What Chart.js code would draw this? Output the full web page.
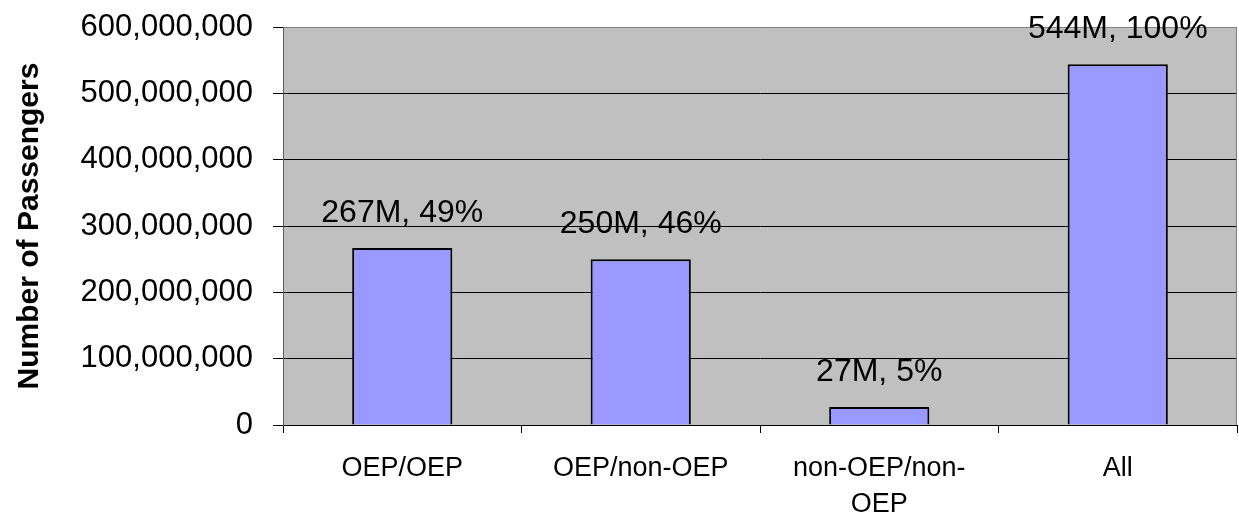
<!DOCTYPE html>
<html>
<head>
<meta charset="utf-8">
<script src="https://cdn.jsdelivr.net/npm/chart.js@4"></script>
<style>
  html, body { margin: 0; padding: 0; background: #fff; }
  #wrap { width: 1239px; height: 523px; }
</style>
</head>
<body>
<div id="wrap"><canvas id="c"></canvas></div>
<script>
var categories = ["OEP/OEP", "OEP/non-OEP", ["non-OEP/non-", "OEP"], "All"];
var passengers = [267000000, 250000000, 27000000, 544000000];
var yTicks = [0, 100000000, 200000000, 300000000, 400000000, 500000000, 600000000];

var total = passengers[passengers.length - 1];

var plotBackground = {
    id: "plotBackground",
    beforeDraw: function (chart) {
        var a = chart.chartArea, ctx = chart.ctx;
        ctx.save();
        ctx.fillStyle = "#C0C0C0";
        ctx.fillRect(a.left, a.top, a.right - a.left, a.bottom - a.top);
        ctx.restore();
    },
    afterDraw: function (chart) {
        var a = chart.chartArea, ctx = chart.ctx;
        ctx.save();
        ctx.strokeStyle = "#808080";
        ctx.lineWidth = 1;
        ctx.beginPath();
        ctx.moveTo(a.right - 0.5, a.top);
        ctx.lineTo(a.right - 0.5, a.bottom);
        ctx.stroke();
        ctx.restore();
    }
};

var barLabels = {
    id: "barLabels",
    afterDatasetsDraw: function (chart) {
        var ctx = chart.ctx;
        var meta = chart.getDatasetMeta(0);
        ctx.save();
        ctx.font = "32px 'Liberation Sans', Arial, sans-serif";
        ctx.fillStyle = "#000";
        ctx.textAlign = "center";
        ctx.textBaseline = "alphabetic";
        meta.data.forEach(function (bar, i) {
            var v = passengers[i];
            var txt = Math.round(v / 1e6) + "M, " + Math.round(v / total * 100) + "%";
            ctx.fillText(txt, bar.x, bar.y - 26);
        });
        ctx.restore();
    }
};

new Chart(document.getElementById("c").getContext("2d"), {
    type: "bar",
    data: {
        labels: categories,
        datasets: [
            {
                data: passengers,
                backgroundColor: "#9999FF",
                borderColor: "#000000",
                borderWidth: 2,
                barPercentage: 0.42,
                categoryPercentage: 1
            }
        ]
    },
    options: {
        responsive: true,
        maintainAspectRatio: false,
        animation: false,
        layout: { padding: { top: 27, right: 2, left: 0, bottom: 0 } },
        plugins: {
            legend: { display: false },
            tooltip: { enabled: false }
        },
        scales: {
            x: {
                offset: true,
                grid: {
                    offset: true,
                    drawOnChartArea: false,
                    drawTicks: true,
                    tickLength: 8,
                    color: "#000"
                },
                border: { color: "#000", width: 1 },
                ticks: {
                    color: "#000",
                    padding: 17,
                    maxRotation: 0,
                    autoSkip: false,
                    font: { family: "'Liberation Sans', Arial, sans-serif", size: 27, lineHeight: 1.35 }
                },
                afterFit: function (s) {
                    s.height = 98;
                    s.paddingLeft = 0;
                    s.paddingRight = 0;
                }
            },
            y: {
                min: 0,
                max: 600000000,
                afterBuildTicks: function (s) {
                    s.ticks = yTicks.map(function (v) { return { value: v }; });
                },
                grid: {
                    color: function (c) { return c.tick && c.tick.value === 600000000 ? "#808080" : "#000"; },
                    lineWidth: 1,
                    tickLength: 10,
                    tickColor: "#000"
                },
                border: { color: "#606060", width: 1 },
                ticks: {
                    color: "#000",
                    padding: 20,
                    font: { family: "'Liberation Sans', Arial, sans-serif", size: 31 },
                    callback: function (v) { return Number(v).toLocaleString("en-US"); }
                },
                title: {
                    display: true,
                    text: "Number of Passengers",
                    color: "#000",
                    padding: { top: 12, bottom: 0 },
                    font: { family: "'Liberation Sans', Arial, sans-serif", size: 30, weight: "bold", lineHeight: 1.2 }
                },
                afterFit: function (s) {
                    s.width = 283;
                    s.paddingTop = 0;
                    s.paddingBottom = 0;
                }
            }
        }
    },
    plugins: [plotBackground, barLabels]
});
</script>
</body>
</html>
